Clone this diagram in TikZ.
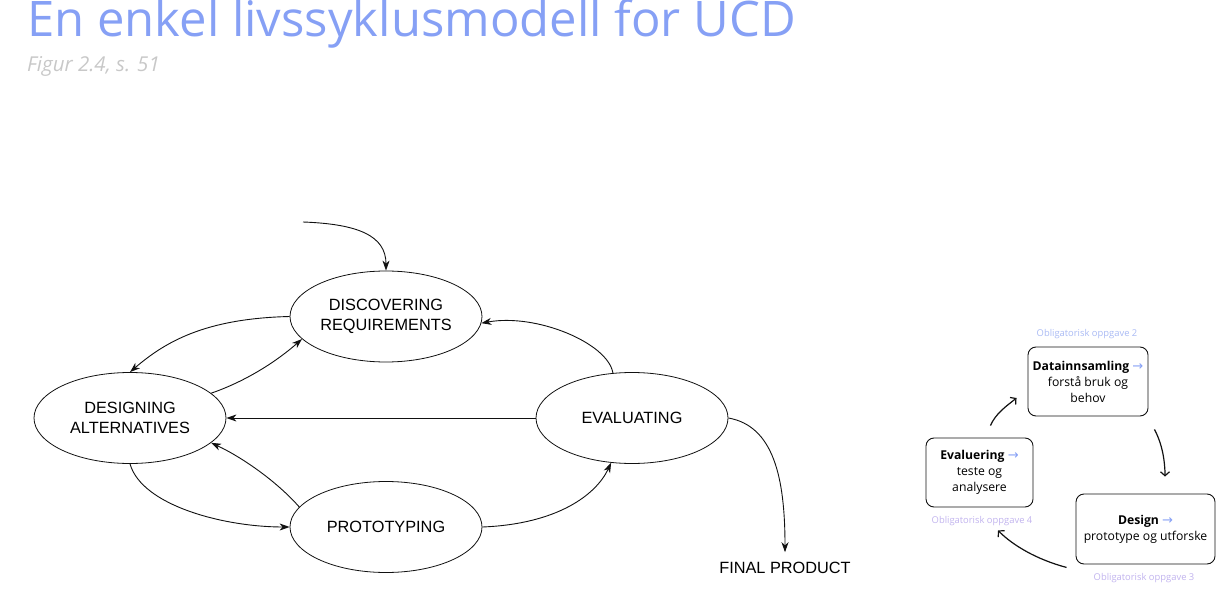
\documentclass[tikz,border=0pt]{standalone}
\usepackage{fontspec}
\usepackage{xcolor}
\usepackage{tikz}
\usetikzlibrary{positioning, arrows.meta, shapes.geometric}
\setmainfont{Open Sans}
\newfontfamily\helv{Liberation Sans}
\newfontfamily\symb{DejaVu Sans}
\definecolor{titleblue}{HTML}{86A0F5}
\definecolor{captiongray}{HTML}{C8C8C8}
\definecolor{taskblue}{HTML}{A9BAF4}
\definecolor{tasklilac}{HTML}{C1B3EE}
\definecolor{ink}{HTML}{111111}
\tikzset{
  phase/.style={draw=ink, line width=0.8pt, ellipse, minimum width=192pt, minimum height=91pt, inner sep=0pt, align=center, font=\helv\fontsize{16.3}{20}\selectfont},
  flow/.style={-{Stealth[length=10pt, width=7pt, inset=3pt]}, line width=0.9pt, draw=ink},
  task/.style={draw=ink, line width=0.9pt, rounded corners=8pt, align=center, font=\fontsize{12.2}{16}\selectfont, inner sep=0pt},
  tasklabel/.style={font=\fontsize{9.4}{11}\selectfont},
  cyclearrow/.style={-{Straight Barb[length=4pt, width=9pt]}, line width=1.2pt, draw=ink},
}
\newcommand{\nextstep}{\textcolor{titleblue}{\symb\fontsize{13}{16}\selectfont →}}

\begin{document}
\begin{tikzpicture}[x=1pt, y=-1pt]
  \useasboundingbox (0,0) rectangle (1220,593);
  % Heading
  \node[anchor=base west, inner sep=0pt, text=titleblue, font=\fontsize{49}{56}\selectfont] (title) at (27,37) {En enkel livssyklusmodell for UCD};
  \node[anchor=base west, inner sep=0pt, text=captiongray, font=\itshape\fontsize{20.5}{24}\selectfont] (caption) at (27,72) {Figur 2.4, s. 51};

  % Lifecycle model
  \node[phase] (disc) at (386,316.5) {DISCOVERING\\REQUIREMENTS};
  \node[phase] (des) at (130,418) {DESIGNING\\ALTERNATIVES};
  \node[phase] (eval) at (632,418) {EVALUATING};
  \node[phase] (proto) at (386,527) {PROTOTYPING};
  \node[font=\helv\fontsize{16.3}{20}\selectfont, inner sep=2pt, outer sep=8pt] (final) at (785,568) {FINAL PRODUCT};
  \coordinate (entry) at (303,222);

  \draw[flow] (entry) .. controls +(55,2) and +(0,-35) .. (disc.north);
  \draw[flow] (disc.west) .. controls +(-85,2) and +(35,-30) .. (des.north);
  \draw[flow] (des.17) .. controls +(35,-12) and +(-25,22) .. (disc.195);
  \draw[flow] (eval.west) -- (des.east);
  \draw[flow] (proto.167) .. controls +(-22,-25) and +(32,15) .. (des.-17);
  \draw[flow] (des.south) .. controls +(12,42) and +(-65,0) .. (proto.west);
  \draw[flow] (proto.east) .. controls +(75,-3) and +(-15,32) .. (eval.245);
  \draw[flow] (eval.113) .. controls +(-5,-30) and +(55,-10) .. (disc.-4);
  \draw[flow] (eval.east) .. controls +(45,8) and +(0,-75) .. (final.north);

  % Course assignments
  \node[task, minimum width=120pt, minimum height=69pt] (data) at (1088,381.5) {\textbf{Datainnsamling} \nextstep\\forstå bruk og\\behov};
  \node[task, minimum width=107pt, minimum height=69pt] (evalbox) at (979.5,472.5) {\textbf{Evaluering} \nextstep\\teste og\\analysere};
  \node[task, minimum width=139pt, minimum height=70pt] (design) at (1145.5,529) {\textbf{Design} \nextstep\\prototype og utforske};
  \node[tasklabel, text=taskblue] (task2) at (1087,334) {Obligatorisk oppgave 2};
  \node[tasklabel, text=tasklilac] (task4) at (982,521) {Obligatorisk oppgave 4};
  \node[tasklabel, text=tasklilac] (task3) at (1144,578) {Obligatorisk oppgave 3};

  \draw[cyclearrow] ([shift={(11,-12)}]evalbox.north) .. controls +(5,-12) and +(-10,8) .. ([shift={(-11,16.5)}]data.west);
  \draw[cyclearrow] ([shift={(6,13)}]data.south east) .. controls +(8,15) and +(0,-15) .. ([shift={(19.5,-17)}]design.north);
  \draw[cyclearrow] ([shift={(-9,3)}]design.south west) .. controls +(-30,-8) and +(15,15) .. ([shift={(18.5,23)}]evalbox.south);
\end{tikzpicture}
\end{document}
